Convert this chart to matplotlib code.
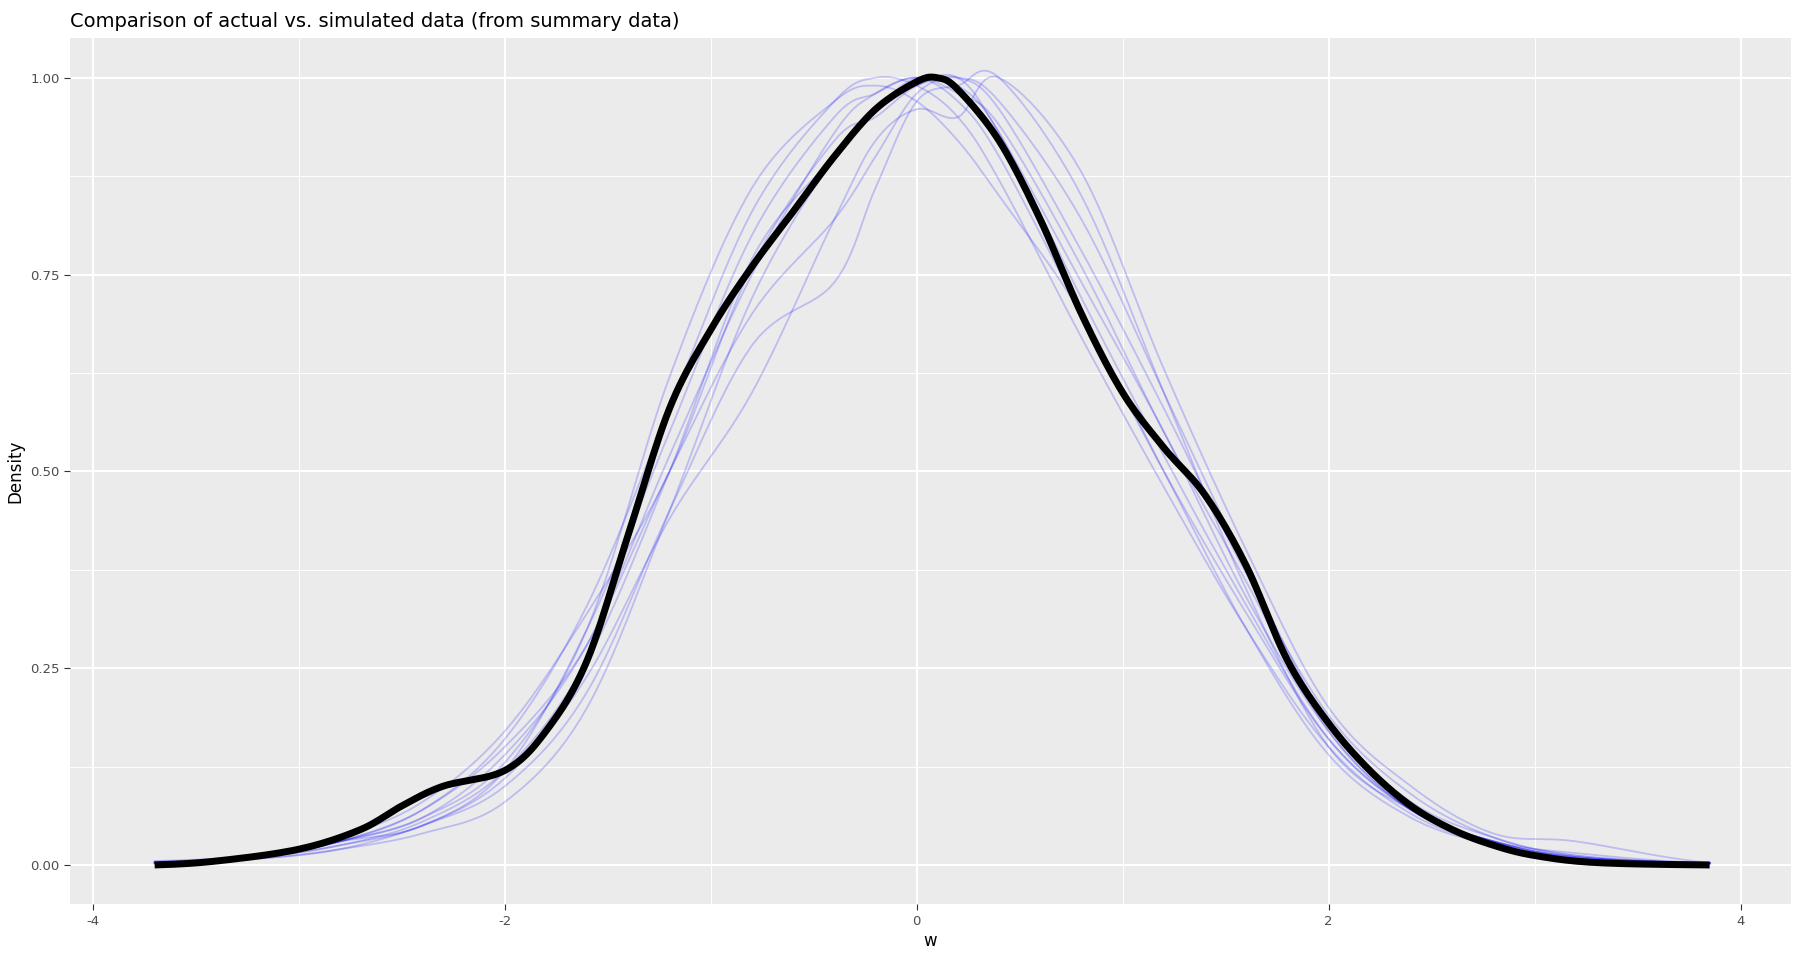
import numpy as np
import matplotlib.pyplot as plt

# actual data density (scaled)
actual_x = [-3.7, -3.4, -3.0, -2.7, -2.5, -2.3, -2.0, -1.8, -1.6, -1.4, -1.2, -1.0, -0.8, -0.6,
            -0.4, -0.2, 0.0, 0.1, 0.2, 0.4, 0.6, 0.8, 1.0, 1.2, 1.4, 1.6, 1.8, 2.0, 2.2, 2.4,
            2.6, 2.8, 3.0, 3.3, 3.85]
actual_y = [0.0, 0.005, 0.02, 0.045, 0.075, 0.1, 0.12, 0.17, 0.26, 0.42, 0.58, 0.68, 0.76, 0.83,
            0.9, 0.96, 0.995, 1.0, 0.985, 0.92, 0.82, 0.7, 0.6, 0.53, 0.47, 0.38, 0.26, 0.18, 0.12,
            0.075, 0.045, 0.025, 0.012, 0.003, 0.0]

# simulated densities on a common grid
sim_x = [-3.7, -3.2, -2.8, -2.4, -2.0, -1.6, -1.2, -0.8, -0.4, -0.2, 0.0, 0.2, 0.4, 0.8, 1.2,
         1.6, 2.0, 2.4, 2.8, 3.2, 3.85]
sim_1 = [0.005, 0.012, 0.03, 0.05, 0.12, 0.3, 0.55, 0.8, 0.95, 0.98, 1.0, 0.97, 0.9, 0.7, 0.5, 0.32, 0.16, 0.07, 0.03, 0.01, 0.003]
sim_2 = [0.003, 0.01, 0.03, 0.07, 0.15, 0.28, 0.5, 0.7, 0.82, 0.9, 0.98, 1.0, 0.97, 0.82, 0.6, 0.38, 0.18, 0.08, 0.035, 0.012, 0.002]
sim_3 = [0.002, 0.008, 0.02, 0.05, 0.1, 0.22, 0.45, 0.66, 0.74, 0.86, 0.97, 0.99, 1.0, 0.85, 0.6, 0.35, 0.15, 0.07, 0.03, 0.015, 0.002]
sim_4 = [0.003, 0.01, 0.03, 0.06, 0.13, 0.3, 0.62, 0.86, 0.97, 0.99, 0.97, 0.92, 0.85, 0.7, 0.5, 0.3, 0.14, 0.06, 0.025, 0.008, 0.002]
sim_5 = [0.002, 0.008, 0.02, 0.04, 0.08, 0.2, 0.45, 0.72, 0.9, 0.96, 1.0, 0.99, 0.93, 0.72, 0.52, 0.33, 0.16, 0.07, 0.03, 0.01, 0.002]
sim_6 = [0.002, 0.01, 0.025, 0.05, 0.11, 0.24, 0.44, 0.6, 0.82, 0.92, 0.96, 0.95, 1.0, 0.88, 0.63, 0.4, 0.2, 0.1, 0.04, 0.03, 0.003]
sim_7 = [0.004, 0.012, 0.03, 0.07, 0.16, 0.33, 0.58, 0.83, 0.97, 1.0, 0.99, 0.95, 0.87, 0.67, 0.48, 0.3, 0.15, 0.065, 0.025, 0.008, 0.002]
sim_8 = [0.003, 0.01, 0.03, 0.06, 0.14, 0.28, 0.52, 0.75, 0.93, 0.98, 1.0, 0.98, 0.94, 0.76, 0.55, 0.36, 0.17, 0.07, 0.03, 0.01, 0.002]
sim_9 = [0.004, 0.012, 0.035, 0.08, 0.17, 0.32, 0.5, 0.76, 0.92, 0.95, 0.99, 1.0, 0.93, 0.74, 0.55, 0.34, 0.17, 0.07, 0.03, 0.01, 0.002]
sim_10 = [0.003, 0.01, 0.025, 0.055, 0.12, 0.26, 0.5, 0.77, 0.9, 0.96, 0.99, 1.0, 0.96, 0.78, 0.58, 0.37, 0.19, 0.09, 0.035, 0.012, 0.002]
sims = [sim_1, sim_2, sim_3, sim_4, sim_5, sim_6, sim_7, sim_8, sim_9, sim_10]


def smooth(x, y, n=12):
    # Catmull-Rom rendering between the read points, just for drawing
    x = np.asarray(x, float); y = np.asarray(y, float)
    px = np.concatenate([[2 * x[0] - x[1]], x, [2 * x[-1] - x[-2]]])
    py = np.concatenate([[y[0]], y, [y[-1]]])
    xs, ys = [], []
    t = np.linspace(0, 1, n, endpoint=False)
    for i in range(1, len(px) - 2):
        for arr, out in ((px, xs), (py, ys)):
            p0, p1, p2, p3 = arr[i - 1:i + 3]
            out.extend(0.5 * (2 * p1 + (-p0 + p2) * t + (2 * p0 - 5 * p1 + 4 * p2 - p3) * t**2
                              + (-p0 + 3 * p1 - 3 * p2 + p3) * t**3))
    xs.append(x[-1]); ys.append(y[-1])
    return np.array(xs), np.array(ys)


fig = plt.figure(figsize=(18, 9.6), dpi=100)
ax = fig.add_axes([0.039, 0.058, 0.956, 0.902])
ax.set_facecolor('#EBEBEB')

for s in sims:
    sx, sy = smooth(sim_x, s)
    ax.plot(sx, sy, color='blue', alpha=0.2, linewidth=1.3)
bx, by = smooth(actual_x, actual_y)
ax.plot(bx, by, color='black', linewidth=5, solid_capstyle='butt')

ax.set_xlim(-4.11, 4.245)
ax.set_ylim(-0.05, 1.05)
ax.set_xticks([-4, -2, 0, 2, 4])
ax.set_xticklabels(['-4', '-2', '0', '2', '4'])
ax.set_yticks([0, 0.25, 0.5, 0.75, 1.0])
ax.set_yticklabels(['0.00', '0.25', '0.50', '0.75', '1.00'])
ax.set_xticks([-3, -1, 1, 3], minor=True)
ax.set_yticks([0.125, 0.375, 0.625, 0.875], minor=True)
ax.grid(True, which='major', color='white', linewidth=1.5)
ax.grid(True, which='minor', color='white', linewidth=0.7)
ax.set_axisbelow(True)
for sp in ax.spines.values():
    sp.set_visible(False)
ax.tick_params(which='major', length=4, color='#333333', labelsize=9.5, labelcolor='#4D4D4D')
ax.tick_params(which='minor', length=0)

ax.set_xlabel('w', fontsize=12, labelpad=3)
ax.set_ylabel('Density', fontsize=12)
ax.set_title('Comparison of actual vs. simulated data (from summary data)', fontsize=14, loc='left', pad=8)

fig.savefig('out.png', dpi=100)
